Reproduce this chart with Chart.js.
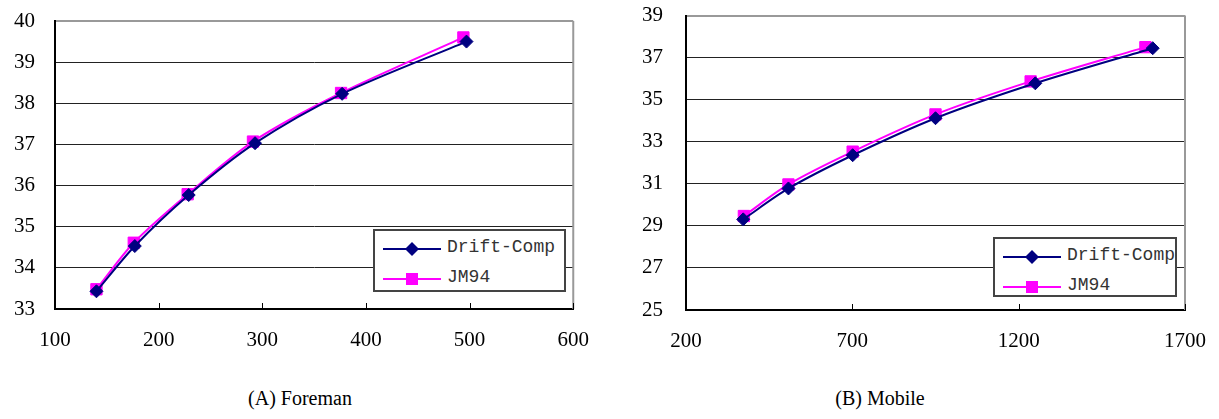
<!DOCTYPE html>
<html>
<head>
<meta charset="utf-8">
<script src="https://cdn.jsdelivr.net/npm/chart.js@4.4.1/dist/chart.umd.min.js"></script>
<style>
  body { margin: 0; background: #fff; }
  #page { position: relative; width: 1219px; height: 419px; overflow: hidden; background: #fff; }
  .box { position: absolute; }
  .legend { position: absolute; background: #fff; border: 2px solid #444; box-sizing: border-box; }
  .legend .row { position: absolute; left: 0; height: 24px; width: 100%; }
  .legend svg { position: absolute; left: 0; top: 0; }
  .legend span { position: absolute; left: 72px; top: 0; line-height: 24px; font: 18px "Liberation Mono", monospace; color: #333; white-space: nowrap; }
  .caption { position: absolute; font: 20px "Liberation Serif", serif; color: #000; white-space: nowrap; transform: translateX(-50%); }
</style>
</head>
<body>
<div id="page">
  <div class="box" style="left:0;top:-20px;width:600px;height:380px"><canvas id="foreman"></canvas></div>
  <div class="box" style="left:610px;top:-20px;width:609px;height:380px"><canvas id="mobile"></canvas></div>
  <div class="caption" style="left:300px;top:387px">(A) Foreman</div>
  <div class="caption" style="left:880px;top:387px">(B) Mobile</div>
</div>
<script>
const seriesNames = ['Drift-Comp', 'JM94'];
const seriesColors = ['#000080', '#ff00ff'];

// (A) Foreman
const foremanDriftX = [140, 177, 229, 293, 377, 497];
const foremanDriftY = [33.43, 34.53, 35.77, 37.03, 38.23, 39.50];
const foremanJmX = [140, 176, 228, 291, 376, 494];
const foremanJmY = [33.48, 34.61, 35.79, 37.07, 38.25, 39.60];
const foremanXTicks = [100, 200, 300, 400, 500, 600];
const foremanYTicks = [33, 34, 35, 36, 37, 38, 39, 40];

// (B) Mobile
const mobileDriftX = [372, 508, 701, 950, 1250, 1603];
const mobileDriftY = [29.31, 30.78, 32.36, 34.12, 35.78, 37.45];
const mobileJmX = [374, 508, 701, 950, 1236, 1581];
const mobileJmY = [29.47, 30.97, 32.53, 34.30, 35.87, 37.50];
const mobileXTicks = [200, 700, 1200, 1700];
const mobileYTicks = [25, 27, 29, 31, 33, 35, 37, 39];

const pairs = (xs, ys) => xs.map((x, i) => ({ x: x, y: ys[i] }));

// right frame edge and the small inward tick marks on the x axis
const framePlugin = {
    id: 'frame',
    afterDraw(chart) {
        const { ctx, chartArea } = chart;
        const xs = chart.scales.x;
        ctx.save();
        ctx.strokeStyle = '#999';
        ctx.lineWidth = 2;
        ctx.beginPath();
        ctx.moveTo(chartArea.right, chartArea.top);
        ctx.lineTo(chartArea.right, chartArea.bottom);
        ctx.stroke();
        ctx.strokeStyle = '#000';
        ctx.lineWidth = 1;
        xs.ticks.forEach(t => {
            const px = Math.round(xs.getPixelForValue(t.value)) + 0.5;
            ctx.beginPath();
            ctx.moveTo(px, chartArea.bottom);
            ctx.lineTo(px, chartArea.bottom - 6);
            ctx.stroke();
        });
        ctx.restore();
    }
};

const makeChart = (id, drift, jm, xTicks, yTicks, yWidth, xHeight, pad, yPad) => {
    const yMax = yTicks[yTicks.length - 1];
    return new Chart(document.getElementById(id), {
        type: 'line',
        data: {
            datasets: [{
                label: seriesNames[0],
                data: drift,
                borderColor: seriesColors[0],
                backgroundColor: seriesColors[0],
                borderWidth: 2,
                pointStyle: 'rectRot',
                pointRadius: 6.5,
                pointBorderWidth: 1,
                tension: 0.3
            }, {
                label: seriesNames[1],
                data: jm,
                borderColor: seriesColors[1],
                backgroundColor: seriesColors[1],
                borderWidth: 2,
                pointStyle: 'rect',
                pointRadius: 8,
                pointBorderWidth: 1,
                tension: 0.3
            }]
        },
        options: {
            responsive: true,
            maintainAspectRatio: false,
            animation: false,
            layout: { padding: pad },
            plugins: { legend: { display: false }, tooltip: { enabled: false } },
            scales: {
                x: {
                    type: 'linear',
                    min: xTicks[0],
                    max: xTicks[xTicks.length - 1],
                    afterBuildTicks: s => { s.ticks = xTicks.map(v => ({ value: v })); },
                    afterFit: s => { s.height = xHeight; },
                    grid: { display: false },
                    border: { display: true, color: '#000', width: 2 },
                    ticks: {
                        color: '#000', font: { family: 'Liberation Serif', size: 21 },
                        padding: 11, maxRotation: 0, autoSkip: false,
                        callback: v => String(v)
                    }
                },
                y: {
                    min: yTicks[0],
                    max: yMax,
                    afterBuildTicks: s => { s.ticks = yTicks.map(v => ({ value: v })); },
                    afterFit: s => { s.width = yWidth; },
                    grid: {
                        drawTicks: false,
                        color: c => c.tick && c.tick.value === yMax ? '#999' : '#222',
                        lineWidth: c => c.tick && c.tick.value === yMax ? 2 : 1
                    },
                    border: { display: true, color: '#000', width: 2 },
                    ticks: {
                        color: '#000', font: { family: 'Liberation Serif', size: 21 },
                        padding: yPad, autoSkip: false,
                        callback: v => String(v)
                    }
                }
            }
        },
        plugins: [framePlugin]
    });
};

makeChart('foreman', pairs(foremanDriftX, foremanDriftY), pairs(foremanJmX, foremanJmY),
    foremanXTicks, foremanYTicks, 55, 51, { left: 0, right: 19, top: 41, bottom: 0 }, 20);
makeChart('mobile', pairs(mobileDriftX, mobileDriftY), pairs(mobileJmX, mobileJmY),
    mobileXTicks, mobileYTicks, 76, 50, { left: 0, right: 34, top: 30, bottom: 0 }, 23);

// legend boxes inside the plot areas
const markerSvg = i => {
    const c = seriesColors[i];
    const shape = i === 0
        ? `<polygon points="37,5 44,12 37,19 30,12" fill="${c}"/>`
        : `<rect x="31" y="6" width="12" height="12" fill="${c}"/>`;
    return `<svg width="70" height="24"><line x1="8" y1="12" x2="66" y2="12" stroke="${c}" stroke-width="2"/>${shape}</svg>`;
};
const addLegend = (left, top, width, height) => {
    const box = document.createElement('div');
    box.className = 'legend';
    box.style.cssText = `left:${left}px;top:${top}px;width:${width}px;height:${height}px`;
    seriesNames.forEach((name, i) => {
        const row = document.createElement('div');
        row.className = 'row';
        row.style.top = (i === 0 ? 6 : 36) + 'px';
        row.innerHTML = markerSvg(i) + `<span>${name}</span>`;
        box.appendChild(row);
    });
    document.getElementById('page').appendChild(box);
};
addLegend(373, 229, 193, 63);
addLegend(993, 237, 184, 60);
</script>
</body>
</html>
